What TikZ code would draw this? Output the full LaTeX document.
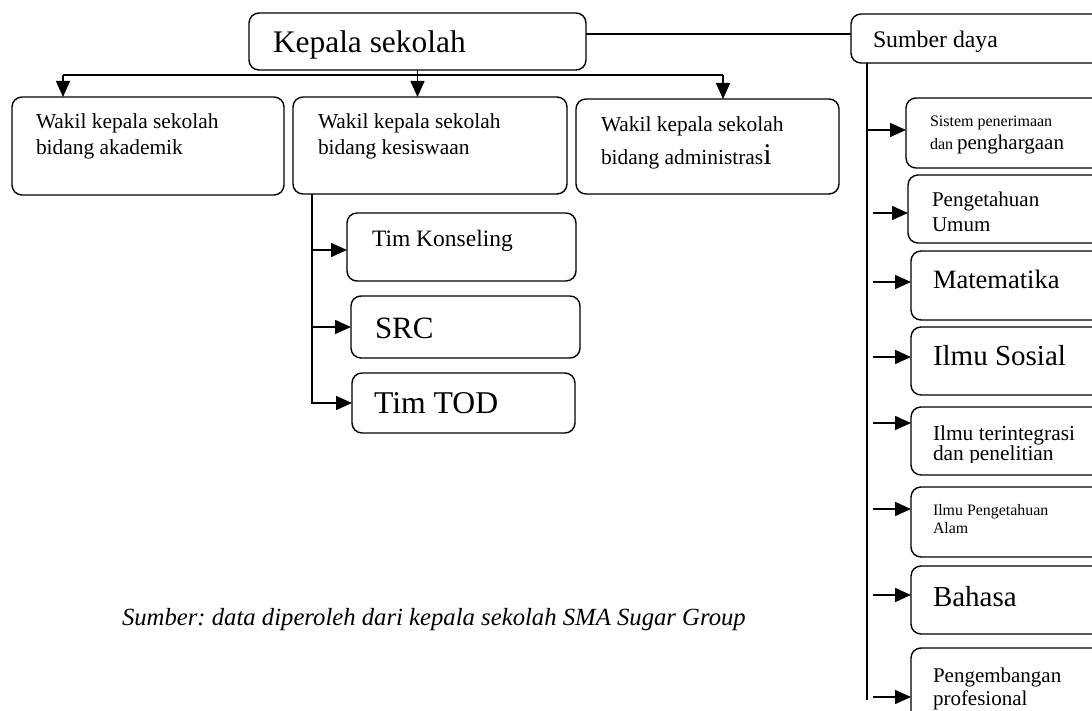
\documentclass[tikz,border=0pt]{standalone}
\usepackage{fontspec}
\setmainfont{Liberation Serif}
\usetikzlibrary{arrows.meta,positioning}
\frenchspacing

\begin{document}
\begin{tikzpicture}[
	x=1pt, y=-1pt,
	every node/.style = {inner sep=0pt, outer sep=0pt},
	box/.style = {shape=rectangle, rounded corners=10pt, draw, line width=1.4pt, anchor=north west},
	txt/.style = {anchor=base west, align=left},
	link/.style = {line width=1.5pt},
	arr/.style = {-{Triangle[length=16pt,width=14pt]}, line width=1.5pt}
]
\useasboundingbox (0,0) rectangle (1092,711);
\clip (0,0) rectangle (1092,711);

% kepala sekolah and the three wakil
\node[box, minimum width=337pt, minimum height=57pt] (kep) at (249,13) {};
\node[txt, font=\fontsize{31.4}{36}\selectfont] (kep-t) at (273,53) {Kepala sekolah};
\node[box, minimum width=272pt, minimum height=98pt] (akd) at (12,97) {};
\node[txt, font=\fontsize{21.4}{26}\selectfont] (akd-t) at (36,155) {Wakil kepala sekolah\\bidang akademik};
\node[box, minimum width=274pt, minimum height=97pt] (ksw) at (293,97) {};
\node[txt, font=\fontsize{21.4}{26}\selectfont] (ksw-t) at (318,155) {Wakil kepala sekolah\\bidang kesiswaan};
\node[box, minimum width=263pt, minimum height=95pt] (adm) at (576,99) {};
\node[txt, font=\fontsize{21.4}{33}\selectfont] (adm-t) at (601,165) {Wakil kepala sekolah\\bidang administras{\fontsize{30}{30}\selectfont i}};

% bidang kesiswaan
\node[box, minimum width=229pt, minimum height=68pt] (tk) at (347,213) {};
\node[txt, font=\fontsize{23.5}{28}\selectfont] (tk-t) at (372,247) {Tim Konseling};
\node[box, minimum width=229pt, minimum height=62pt] (src) at (351,296) {};
\node[txt, font=\fontsize{31}{36}\selectfont] (src-t) at (375,338) {SRC};
\node[box, minimum width=223pt, minimum height=60pt] (tod) at (352,373) {};
\node[txt, font=\fontsize{31.7}{36}\selectfont] (tod-t) at (374,413) {Tim TOD};

% sumber daya
\node[box, minimum width=270pt, minimum height=49pt] (sd) at (851,14) {};
\node[txt, font=\fontsize{23.8}{28}\selectfont] (sd-t) at (873,48) {Sumber daya};
\node[box, minimum width=215pt, minimum height=70pt] (sis) at (906,98) {};
\node[txt, font=\fontsize{16}{23}\selectfont] (sis-t) at (930,150) {Sistem penerimaan\\dan {\fontsize{21}{23}\selectfont penghargaan}};
\node[box, minimum width=213pt, minimum height=68pt] (pu) at (908,175) {};
\node[txt, font=\fontsize{21}{25}\selectfont] (pu-t) at (932,232) {Pengetahuan\\Umum};
\node[box, minimum width=210pt, minimum height=69pt] (mat) at (911,251) {};
\node[txt, font=\fontsize{26.5}{30}\selectfont] (mat-t) at (933,288) {Matematika};
\node[box, minimum width=210pt, minimum height=68pt] (is) at (911,327) {};
\node[txt, font=\fontsize{29}{33}\selectfont] (is-t) at (933,365) {Ilmu Sosial};
\node[box, minimum width=210pt, minimum height=68pt] (iti) at (911,407) {};
\begin{scope}
\clip (iti.north west) rectangle ([yshift=13pt]iti.south east);
\node[txt, font=\fontsize{21.4}{20}\selectfont] (iti-t) at (933,460) {Ilmu terintegrasi\\dan penelitian};
\end{scope}
\node[box, minimum width=210pt, minimum height=70pt] (ipa) at (911,487) {};
\node[txt, font=\fontsize{15.9}{18}\selectfont] (ipa-t) at (933,533) {Ilmu Pengetahuan\\Alam};
\node[box, minimum width=210pt, minimum height=68pt] (bhs) at (911,566) {};
\node[txt, font=\fontsize{29}{33}\selectfont] (bhs-t) at (933,606) {Bahasa};
\node[box, minimum width=210pt, minimum height=80pt] (pp) at (911,648) {};
\node[txt, font=\fontsize{21}{23}\selectfont] (pp-t) at (933,705) {Pengembangan\\profesional};

\node[txt, font=\fontsize{24.7}{28}\selectfont\itshape] (cap) at (122,625) {Sumber: data diperoleh dari kepala sekolah SMA Sugar Group};

% connectors
\coordinate (busl) at (63,75);
\coordinate (busr) at (723,75);
\draw[link] (busl) -- (busr);
\draw[arr] (busl) -- (busl |- akd.north);
\draw[arr] (busr) -- (busr |- adm.north);
\draw[arr] (kep.south) -- (kep.south |- ksw.north);
\draw[link] ([yshift=7.5pt]kep.east) -- ([yshift=7.5pt]kep.east -| sd.west);

\coordinate (kv) at ([xshift=19pt]ksw.south west);
\draw[arr] ([yshift=-3pt]tk.west -| kv) -- ([yshift=-3pt]tk.west);
\draw[arr] (src.west -| kv) -- (src.west);
\draw[arr] (kv) |- (tod.west);

\coordinate (sp) at ([xshift=16pt]sd.south west);
\coordinate (spe) at (867,700);
\coordinate (sp2) at (873,700);
\draw[link] (sp) -- (spe);
\draw[arr] ([yshift=3pt]sis.west -| sp) -- ([yshift=3pt]sis.west);
\draw[arr] ([yshift=-4pt]pu.west -| sp2) -- ([yshift=-4pt]pu.west);
\draw[arr] ([yshift=3.5pt]mat.west -| sp2) -- ([yshift=3.5pt]mat.west);
\draw[arr] ([yshift=4pt]is.west -| sp2) -- ([yshift=4pt]is.west);
\draw[arr] ([yshift=18pt]iti.west -| sp2) -- ([yshift=18pt]iti.west);
\draw[arr] ([yshift=13pt]ipa.west -| sp2) -- ([yshift=13pt]ipa.west);
\draw[arr] ([yshift=5pt]bhs.west -| sp2) -- ([yshift=5pt]bhs.west);
\draw[arr] ([yshift=-9pt]pp.west -| sp2) -- ([yshift=-9pt]pp.west);
\end{tikzpicture}
\end{document}
